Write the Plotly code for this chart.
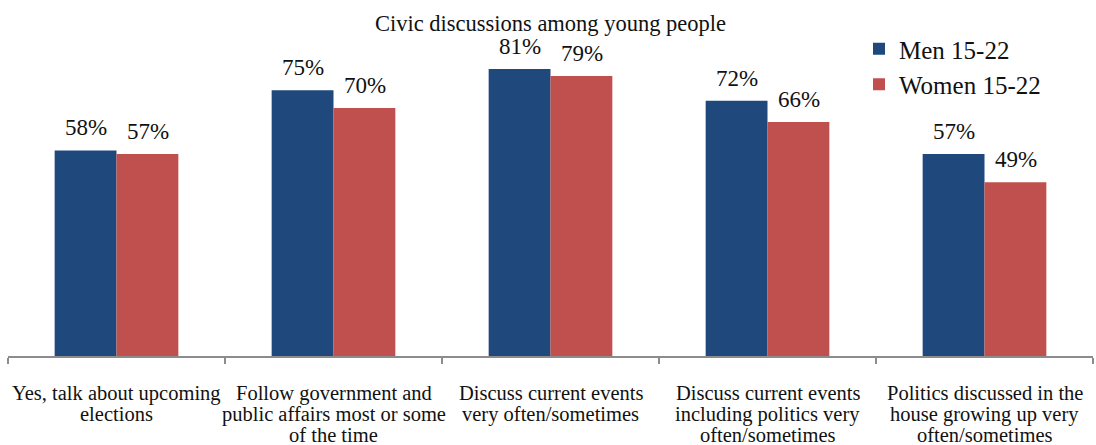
import plotly.graph_objects as go

categories = [
    "Yes, talk about upcoming elections",
    "Follow government and public affairs most or some of the time",
    "Discuss current events very often/sometimes",
    "Discuss current events including politics very often/sometimes",
    "Politics discussed in the house growing up very often/sometimes",
]
tick_lines = [
    ["Yes, talk about upcoming", "elections"],
    ["Follow government and", "public affairs most or some", "of the time"],
    ["Discuss current events", "very often/sometimes"],
    ["Discuss current events", "including politics very", "often/sometimes"],
    ["Politics discussed in the", "house growing up very", "often/sometimes"],
]
men = [58, 75, 81, 72, 57]
women = [57, 70, 79, 66, 49]
series_names = ["Men 15-22", "Women 15-22"]

BLUE = "#1F497D"
RED = "#C0504D"
FONT = "Liberation Serif"
TXT = "#111111"

fig = go.Figure()
for name, vals, col in [(series_names[0], men, BLUE), (series_names[1], women, RED)]:
    fig.add_trace(go.Bar(name=name, x=categories, y=vals, legendgroup=name,
                         marker=dict(color=col, line=dict(width=0))))

# value labels above bars
bar_w = 0.2857
for vals, off in [(men, -bar_w / 2), (women, bar_w / 2)]:
    for i, v in enumerate(vals):
        fig.add_annotation(x=i + off, y=v, xref="x", yref="y", text=f"{v}%",
                           showarrow=False, yanchor="bottom", yshift=8,
                           font=dict(family=FONT, size=23, color=TXT))

# category labels (one annotation per line for tight line spacing)
for i, lines in enumerate(tick_lines):
    for j, ln in enumerate(lines):
        fig.add_annotation(x=i, y=0, xref="x", yref="y", text=ln, showarrow=False,
                           yanchor="middle", yshift=-(37 + 21 * j),
                           font=dict(family=FONT, size=20.5, color=TXT))

fig.update_layout(
    width=1096, height=445,
    margin=dict(l=8, r=3, t=20, b=89),
    paper_bgcolor="white", plot_bgcolor="white",
    barmode="group", bargap=0.43, bargroupgap=0,
    title=dict(text="Civic discussions among young people", x=0.5, xanchor="center",
               xref="paper", y=1 - 23 / 445, yanchor="middle",
               font=dict(family=FONT, size=22.5, color=TXT)),
    font=dict(family=FONT, color=TXT),
    showlegend=True,
    legend=dict(x=(859 - 8) / 1085, y=(356 - 26) / 336, yanchor="top", xanchor="left",
                font=dict(family=FONT, size=25, color=TXT), traceorder="grouped",
                tracegroupgap=0, bgcolor="rgba(0,0,0,0)", itemwidth=30),
)
fig.update_xaxes(showline=True, linecolor="#8c8c8c", linewidth=1.5, ticks="outside",
                 tickson="boundaries", ticklen=6, tickcolor="#8c8c8c", tickwidth=1.5,
                 showticklabels=False, showgrid=False, range=[-0.5, 4.5])
fig.update_yaxes(range=[0, 336 / 3.544], visible=False, showgrid=False, fixedrange=True)

fig.write_html("out.html", config={"displayModeBar": False},
               post_script="document.body.style.margin='0';document.body.style.padding='0';")
